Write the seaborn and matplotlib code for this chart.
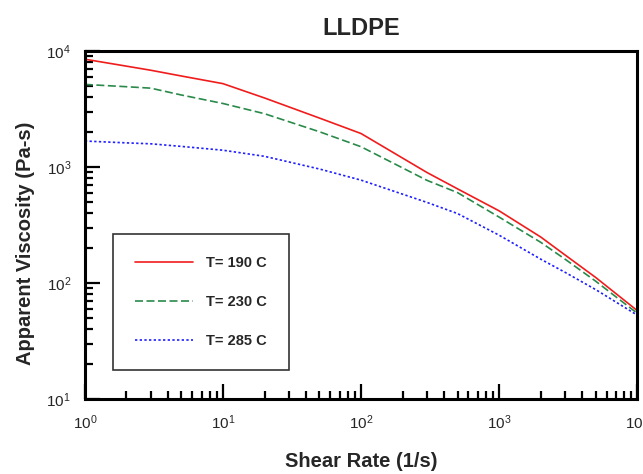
import pandas as pd
import matplotlib.pyplot as plt
import seaborn as sns

# Shear rate (1/s) and apparent viscosity (Pa-s)
shear_rate = [1, 2, 3, 5, 10, 20, 50, 100, 300, 500, 1000, 2000, 3000, 5000, 10000]
visc_190 = [8530, 7430, 6850, 6110, 5250, 3950, 2650, 1950, 900, 650, 420, 250, 175, 112, 58]
visc_230 = [5170, 4940, 4800, 4190, 3540, 2890, 2020, 1500, 770, 603, 371, 225, 161, 104, 55]
visc_285 = [1680, 1620, 1590, 1510, 1400, 1240, 964, 773, 497, 398, 259, 161, 124, 88, 53]
labels = ["T= 190 C", "T= 230 C", "T= 285 C"]

df = pd.concat([
    pd.DataFrame({"rate": shear_rate, "visc": v, "temp": lab})
    for v, lab in zip([visc_190, visc_230, visc_285], labels)
])

sns.set_style("white")
plt.rcParams["font.family"] = ["Liberation Sans", "DejaVu Sans"]
plt.rcParams["mathtext.default"] = "regular"

fig = plt.figure(figsize=(6.43, 4.74), dpi=100)
ax = fig.add_axes([0.132, 0.158, 0.859, 0.734])

palette = {"T= 190 C": "#f01c1c", "T= 230 C": "#2a8a4a", "T= 285 C": "#1f1fff"}
dashes = {"T= 190 C": "", "T= 230 C": (4.8, 2.1), "T= 285 C": (1.4, 1.4)}
sns.lineplot(data=df, x="rate", y="visc", hue="temp", style="temp",
             palette=palette, dashes=dashes, linewidth=1.2, ax=ax)

ax.set_xscale("log")
ax.set_yscale("log")
ax.set_xlim(1, 1e4)
ax.set_ylim(10, 1e4)

for s in ax.spines.values():
    s.set_linewidth(2.2)
    s.set_color("black")

ax.tick_params(which="both", direction="in", top=False, right=False,
               bottom=True, left=True,
               width=1.6, color="black", labelsize=11)
ax.tick_params(which="major", length=11, pad=10)
ax.tick_params(which="minor", length=6)

ax.set_title("LLDPE", fontsize=17, fontweight="bold", pad=12)
ax.set_xlabel("Shear Rate (1/s)", fontsize=14.5, fontweight="bold")
ax.set_ylabel("Apparent Viscosity (Pa-s)", fontsize=14.5, fontweight="bold")
ax.xaxis.set_label_coords(0.5, -0.152)
ax.yaxis.set_label_coords(-0.09, 0.448)

leg = ax.legend(loc="upper left", bbox_to_anchor=(0.0507, 0.474),
                borderaxespad=0, frameon=True, fancybox=False,
                prop={"weight": "bold", "size": 10.5},
                handlelength=4.0, handletextpad=0.9,
                borderpad=1.5, labelspacing=1.7)
leg.get_frame().set_edgecolor("black")
leg.get_frame().set_linewidth(1.2)

plt.savefig("out.png", dpi=100)
